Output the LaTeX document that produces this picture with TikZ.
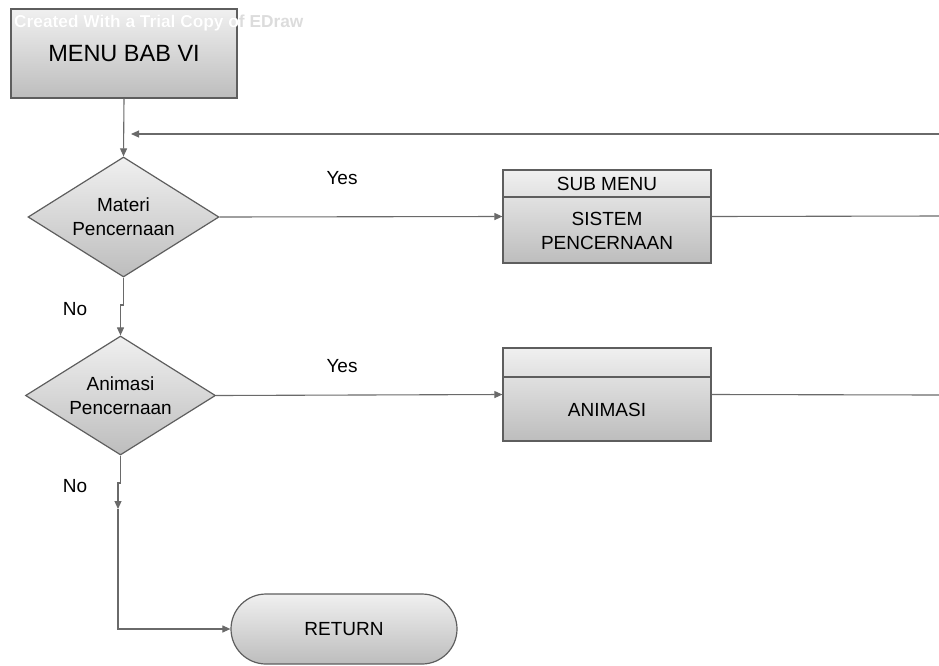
\documentclass[tikz,border=0pt]{standalone}
\usepackage{fontspec}
\setmainfont{Liberation Sans}
\usetikzlibrary{shapes.geometric,arrows.meta,calc}

\definecolor{edgegray}{HTML}{5E5E5E}
\definecolor{wiregray}{HTML}{6A6A6A}
\definecolor{shadetop}{HTML}{F0F0F0}
\definecolor{shadebot}{HTML}{BDBDBD}
\definecolor{wmgray}{HTML}{DCDCDC}

\begin{document}
\begin{tikzpicture}[x=1pt,y=-1pt,
  every node/.style={font=\fontsize{19}{24}\selectfont, text=black, inner sep=0pt},
  shaded/.style={draw=edgegray, line width=1.2pt, top color=shadetop, bottom color=shadebot},
  decision/.style={shaded, diamond, aspect=1.59, minimum width=191pt, minimum height=120pt, align=center},
  process/.style={shaded, rectangle, minimum width=208pt, minimum height=93pt},
  headbar/.style={draw=edgegray, line width=1.4pt, rectangle, minimum width=208pt, anchor=north},
  wire/.style={draw=wiregray, line width=1.1pt},
  arr/.style={wire, -{Triangle[length=8pt,width=7pt]}},
  watermark/.style={anchor=base west, font=\bfseries\fontsize{17.3}{19}\selectfont}
]
\useasboundingbox (0,0) rectangle (939,665);

% start box
\node[shaded, minimum width=226pt, minimum height=89pt,
      font=\fontsize{23.5}{26}\selectfont] (menu) at (124,53.5) {MENU BAB VI};

% trial watermark: grey on paper, white over the box
\node[watermark, text=wmgray] (wm) at (14,27) {Created With a Trial Copy of EDraw};
\begin{scope}
  \clip (menu.south west) rectangle (menu.north east);
  \node[watermark, text=white] (wmbox) at (14,27) {Created With a Trial Copy of EDraw};
\end{scope}

% decisions
\node[decision] (d1) at (123.5,217) {Materi\\Pencernaan};
\node[decision, minimum width=190pt, minimum height=119pt] (d2) at (120.5,395.5) {Animasi\\Pencernaan};

% sub menu: digestive system
\node[process] (sub) at (607,216.5) {};
\node[headbar, minimum height=27pt] (subhead) at (sub.north) {SUB MENU};
\node[align=center] (subtext) at ($(subhead.south)!0.5!(sub.south)$) {SISTEM\\PENCERNAAN};

% animation
\node[process] (anim) at (607,394.5) {};
\node[headbar, minimum height=29pt] (animhead) at (anim.north) {};
\node (animtext) at ($(animhead.south)!0.5!(anim.south)$) {ANIMASI};

% terminator
\node[shaded, rounded corners=35pt, minimum width=226pt, minimum height=70pt] (ret) at (344,629) {RETURN};

% labels
\node (yes1) at (342,178) {Yes};
\node (yes2) at (342,366) {Yes};
\node (no1) at (75,309) {No};
\node (no2) at (75,486) {No};

% helper points
\coordinate (loopR) at (939,134);
\coordinate (loopL) at (131,134);
\coordinate (outA) at (939,216);
\coordinate (outB) at (939,395);
\coordinate (j1a) at (123.5,305);
\coordinate (j1b) at (120.5,305);
\coordinate (j2a) at (120.5,483);
\coordinate (j2b) at (118,483);
\coordinate (j2c) at (118,509);

% connectors
\draw[arr] (menu.south) -- (d1.north);
\draw[arr] (loopR) -- (loopL);
\draw[arr] (d1.east) -- (sub.west);
\draw[wire] (sub.east) -- (outA);
\draw[arr] (d1.south) -- (j1a) -- (j1b) -- (d2.north);
\draw[arr] (d2.east) -- (anim.west);
\draw[wire] (anim.east) -- (outB);
\draw[arr] (d2.south) -- (j2a) -- (j2b) -- (j2c);
\draw[arr] (j2c) |- (ret.west);
\end{tikzpicture}
\end{document}
